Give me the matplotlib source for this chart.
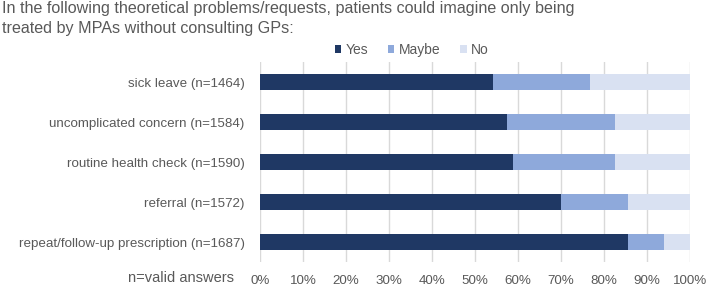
import matplotlib
matplotlib.use("Agg")
import matplotlib.pyplot as plt
from matplotlib.patches import Patch

categories = ["sick leave (n=1464)", "uncomplicated concern (n=1584)",
              "routine health check (n=1590)", "referral (n=1572)",
              "repeat/follow-up prescription (n=1687)"]
yes = [54.1, 57.4, 58.9, 69.9, 85.6]
maybe = [22.6, 25.2, 23.7, 15.6, 8.4]
no = [23.3, 17.4, 17.4, 14.5, 6.0]
series_names = ["Yes", "Maybe", "No"]
colors = ["#1F3864", "#8EA9DB", "#D9E1F2"]
xticks = [0, 10, 20, 30, 40, 50, 60, 70, 80, 90, 100]

plt.rcParams['font.family'] = ['Liberation Sans', 'DejaVu Sans']
text_color = "#595959"

fig = plt.figure(figsize=(7.08, 2.88), dpi=100)
ax = fig.add_axes([260/708, 1-262/288, 430/708, 200/288])

n = len(categories)
ypos = list(range(n))[::-1]
left = [0]*n
for vals, name, c in zip([yes, maybe, no], series_names, colors):
    ax.barh(ypos, vals, left=left, height=0.4, color=c, label=name, zorder=3)
    left = [l + v for l, v in zip(left, vals)]

ax.set_xlim(0, 100)
ax.set_ylim(-0.5, n - 0.5)
ax.set_yticks(ypos)
ax.set_yticklabels(categories, fontsize=9.6, color=text_color)
ax.set_xticks(xticks)
ax.set_xticklabels([f"{t}%" for t in xticks], fontsize=9.6, color=text_color)
ax.tick_params(axis='both', length=0)
ax.tick_params(axis='y', pad=11)
ax.tick_params(axis='x', pad=9)
ax.grid(axis='x', color="#D9D9D9", linewidth=1, zorder=0)
for s in ax.spines.values():
    s.set_visible(False)

fig.text(2/708, 1-12.5/288, "In the following theoretical problems/requests, patients could imagine only being",
         fontsize=11.6, color=text_color, va='baseline', ha='left')
fig.text(2/708, 1-33/288, "treated by MPAs without consulting GPs:",
         fontsize=11.6, color=text_color, va='baseline', ha='left')
fig.text(128/708, 1-278/288, "n=valid answers", fontsize=10.5, color=text_color,
         va='center', ha='left')

handles = [Patch(facecolor=c, label=nm) for c, nm in zip(colors, series_names)]
fig.legend(handles=handles, loc='center', bbox_to_anchor=(412/708, 1-50/288), ncol=3,
           frameon=False, fontsize=10, handlelength=0.45, handleheight=0.45,
           handletextpad=0.35, columnspacing=1.4, labelcolor=text_color,
           borderpad=0, borderaxespad=0)

fig.savefig("out.png", dpi=100)
